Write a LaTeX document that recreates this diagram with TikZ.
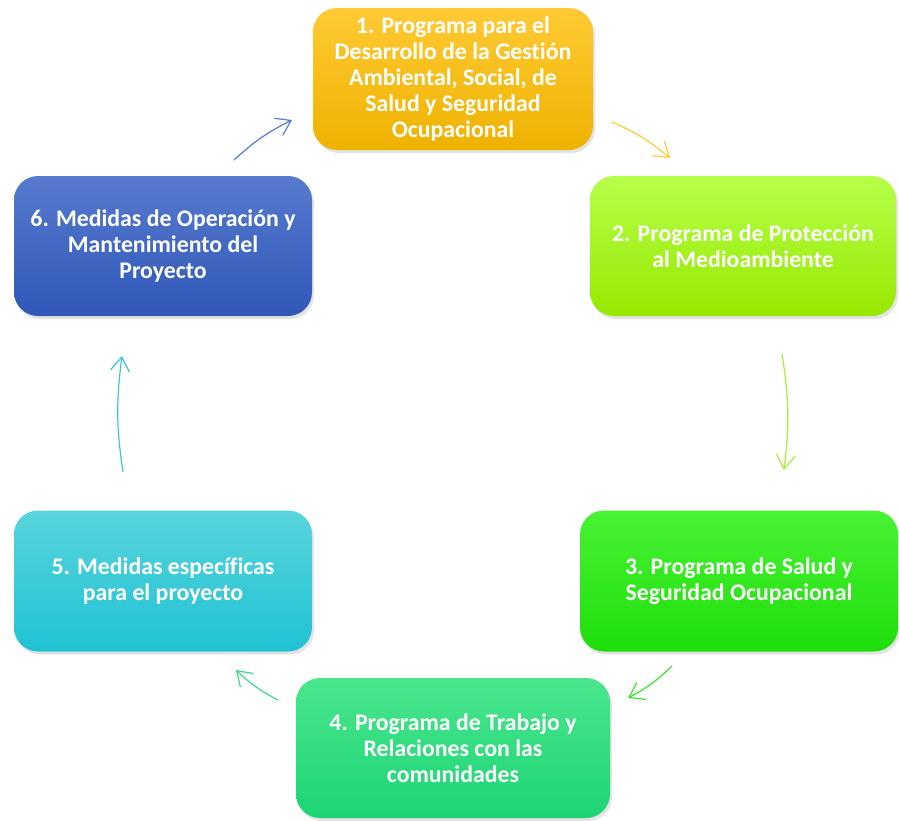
\documentclass[tikz,border=0pt]{standalone}
\usepackage{fontspec}
\setmainfont{Carlito}[Ligatures=NoCommon]
\usetikzlibrary{arrows.meta}
\usetikzlibrary{positioning}
\usetikzlibrary{shadows}

\begin{document}
\begin{tikzpicture}[x=1pt, y=1pt,
		box/.style={rounded corners=24pt, align=center, text=white, inner sep=0pt,
			font={\bfseries\fontsize{23.8}{26.2}\selectfont},
			drop shadow={shadow xshift=2pt, shadow yshift=-3pt, opacity=0.22}},
		cyc/.style={-{Straight Barb[length=14pt,width=19pt]}, line width=1.2pt, bend left=8}]
			\definecolor{GOLDTOP}{RGB}{255, 202, 52}
			\definecolor{GOLDBOT}{RGB}{238, 178, 0}
			\definecolor{LIMETOP}{RGB}{182, 255, 74}
			\definecolor{LIMEBOT}{RGB}{150, 232, 0}
			\definecolor{GREENTOP}{RGB}{72, 242, 52}
			\definecolor{GREENBOT}{RGB}{30, 222, 10}
			\definecolor{SEATOP}{RGB}{74, 230, 140}
			\definecolor{SEABOT}{RGB}{28, 212, 116}
			\definecolor{CYANTOP}{RGB}{88, 212, 220}
			\definecolor{CYANBOT}{RGB}{32, 194, 212}
			\definecolor{BLUETOP}{RGB}{88, 122, 206}
			\definecolor{BLUEBOT}{RGB}{48, 88, 184}
			\useasboundingbox (0,0) rectangle (899,-820);
			% boxes
			\node[box, top color=GOLDTOP, bottom color=GOLDBOT, minimum width=280pt, minimum height=142pt] (prog1) at (453, -79) {1. Programa para el\\Desarrollo de la Gestión\\Ambiental, Social, de\\Salud y Seguridad\\Ocupacional};
			\node[box, top color=LIMETOP, bottom color=LIMEBOT, minimum width=306pt, minimum height=140pt] (prog2) at (743, -246) {2. Programa de Protección\\al Medioambiente};
			\node[box, top color=GREENTOP, bottom color=GREENBOT, minimum width=318pt, minimum height=141pt] (prog3) at (739, -581) {3. Programa de Salud y\\Seguridad Ocupacional};
			\node[box, top color=SEATOP, bottom color=SEABOT, minimum width=314pt, minimum height=140pt] (prog4) at (453, -748) {4. Programa de Trabajo y\\Relaciones con las\\comunidades};
			\node[box, top color=CYANTOP, bottom color=CYANBOT, minimum width=298pt, minimum height=141pt] (med5) at (163, -581) {5. Medidas específicas\\para el proyecto};
			\node[box, top color=BLUETOP, bottom color=BLUEBOT, minimum width=298pt, minimum height=140pt] (med6) at (163, -246) {6. Medidas de Operación y\\Mantenimiento del\\Proyecto};
			% arrow ends
			\coordinate (a12s) at (612, -122);
			\coordinate (a12e) at (670, -158);
			\coordinate (a23s) at (782, -354);
			\coordinate (a23e) at (784, -470);
			\coordinate (a34s) at (672, -666);
			\coordinate (a34e) at (628, -698);
			\coordinate (a45s) at (278, -700);
			\coordinate (a45e) at (236, -670);
			\coordinate (a56s) at (123, -472);
			\coordinate (a56e) at (122, -356);
			\coordinate (a61s) at (234, -160);
			\coordinate (a61e) at (292, -120);
			\draw[cyc, color=GOLDTOP] (a12s) to (a12e);
			\draw[cyc, color=LIMEBOT!80] (a23s) to (a23e);
			\draw[cyc, color=GREENBOT!85] (a34s) to (a34e);
			\draw[cyc, color=SEABOT!85] (a45s) to (a45e);
			\draw[cyc, color=CYANBOT!90] (a56s) to (a56e);
			\draw[cyc, color=BLUETOP] (a61s) to (a61e);
\end{tikzpicture}
\end{document}
